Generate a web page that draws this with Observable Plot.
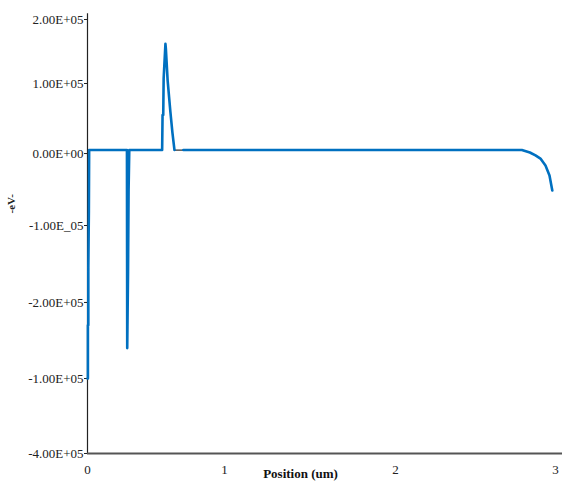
<!DOCTYPE html>
<html>
<head>
<meta charset="utf-8">
<script src="https://cdn.jsdelivr.net/npm/d3@7"></script>
<script src="https://cdn.jsdelivr.net/npm/@observablehq/plot@0.6"></script>
<style>
  html, body { margin: 0; padding: 0; background: #fff; }
  #chart { width: 562px; height: 481px; overflow: hidden; }
  svg { font-family: "Liberation Serif", "Times New Roman", serif; }
</style>
</head>
<body>
<div id="chart"></div>
<script>
// Position (um) and energy (eV) (NaN = gap in the drawn line)
const posX = [0, 0.003, 0.003, 0.006, 0.006, 0.01, 0.012, 0.28, 0.288, 0.29, 0.296, 0.3, 0.305,
  0.545, 0.548, 0.553, 0.556, 0.569, 0.572, 0.585, 0.605, 0.62, 0.635, 0.67,
  0.70, 0.75, 1.0, 1.5, 2.0, 2.5, 2.79, 2.84, 2.875, 2.906, 2.9375, 2.9625, 2.98];
const energy = [-3.0e5, -3.0e5, -2.3e5, -2.3e5, -1.55e5, -0.8e5, 5000, 5000, 5000, -2.6e5, -1.6e5, -0.5e5, 5000,
  5000, 0.55e5, 0.55e5, 1.08e5, 1.62e5, 1.55e5, 1.05e5, 0.6e5, 0.3e5, 5000, NaN,
  5000, 5000, 5000, 5000, 5000, 5000, 5000, 1500, -2500, -7000, -16700, -30500, -51400];
// small dark segment visible in the gap near the peak foot
const darkX = [0.635, 0.70];
const darkY = [5000, 5000];

const yTicks = [2e5, 1e5, 0, -1e5, -2e5, -3e5, -4e5];
const yLabels = ["2.00E+05", "1.00E+05", "0.00E+00", "-1.00E_05", "-2.00E+05", "-1.00E+05", "-4.00E+05"];
const xTicks = [0, 1, 2, 3];
const xLabels = ["0", "1", "2", "3"];
const xTitle = "Position (um)";
const yTitle = "-eV-";

// the source axes are unevenly spaced; these piecewise warps reproduce their tick spacing
const yWarp = d3.scaleLinear()
  .domain([-4e5, -3e5, -2e5, -1e5, 0, 1e5, 2e5])
  .range([-4e5, -2.963e5, -1.912e5, -0.848e5, 0.147e5, 1.115e5, 2e5]);
const xWarp = d3.scaleLinear()
  .domain([0, 1, 2, 3])
  .range([0, 0.878, 1.974, 3]);

const series = posX.map((x, i) => ({x, y: energy[i]}));
const dark = darkX.map((x, i) => ({x, y: darkY[i]}));
// axis ticks are placed in the warped space (the axis does not apply the scale transform)
const yTickPos = yTicks.map(d => yWarp(d));
const xTickPos = xTicks.map(d => xWarp(d));
const nearest = (arr, v) => { let b = 0; arr.forEach((a, i) => { if (Math.abs(a - v) < Math.abs(arr[b] - v)) b = i; }); return b; };

const chart = Plot.plot({
  width: 562,
  height: 481,
  marginLeft: 87,
  marginRight: 7,
  marginTop: 19,
  marginBottom: 28,
  style: {fontFamily: "'Liberation Serif', 'Times New Roman', serif", fontSize: "13px", background: "#fff", color: "#222"},
  x: {domain: [0, 3], transform: xWarp},
  y: {domain: [-4e5, 2e5], transform: yWarp},
  marks: [
    Plot.axisY({ticks: yTickPos, tickFormat: (d) => yLabels[nearest(yTickPos, d)], tickSize: 3, tickPadding: 1, label: null, fontSize: 13, stroke: "#222"}),
    Plot.axisX({ticks: xTickPos, tickFormat: (d) => xLabels[nearest(xTickPos, d)], tickSize: 0, tickPadding: 11, label: null, fontSize: 13}),
    Plot.ruleX([0], {y1: -4e5, y2: 2.09e5, stroke: "#222", strokeWidth: 1.2}),
    Plot.ruleY([-4e5], {x1: 0, x2: 3.06, stroke: "#555", strokeWidth: 2.2}),
    Plot.line(dark, {x: "x", y: "y", stroke: "#333", strokeWidth: 1.2}),
    Plot.line(series, {x: "x", y: "y", stroke: "#0070C0", strokeWidth: 2.6, curve: "linear"}),
    Plot.text([yTitle], {text: d => d, frameAnchor: "left", dx: -76, dy: -23, rotate: -90, fontWeight: "bold", fontSize: 11, fill: "#222"}),
    Plot.text([xTitle], {text: d => d, frameAnchor: "bottom", dx: -21, dy: 24, fontWeight: "bold", fontSize: 13, fill: "#111"})
  ]
});
document.getElementById("chart").appendChild(chart);
</script>
</body>
</html>
